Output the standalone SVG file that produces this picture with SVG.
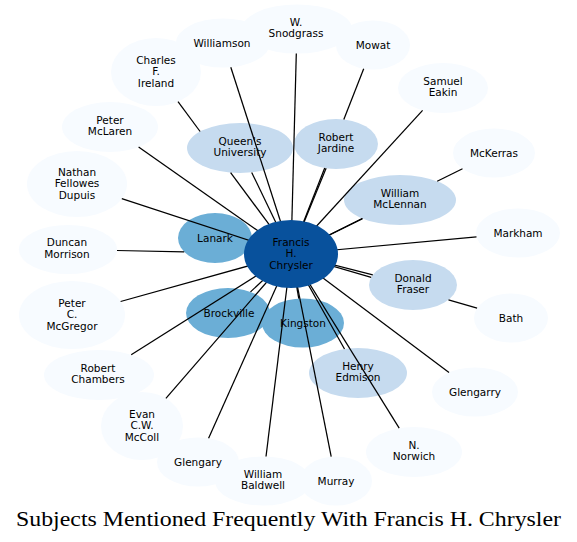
<svg xmlns="http://www.w3.org/2000/svg" width="577" height="542" viewBox="0 0 577 542">
<style>
.n0{fill:#f7fbff}
.n1{fill:#c6dbef}
.n2{fill:#6baed6}
.n3{fill:#08519c}
text{font-family:"DejaVu Sans","Liberation Sans",sans-serif;font-size:10.5px;fill:#000;text-anchor:middle}
.e line{stroke:#000;stroke-width:1.25;stroke-linecap:butt}
.title{font-family:"Liberation Serif","DejaVu Serif",serif;font-size:20.5px;text-anchor:middle}
</style>
<rect width="577" height="542" fill="#fff"/>
<g id="node-williamson"><ellipse class="n0" cx="223" cy="43" rx="47" ry="24.5"/><text x="222" y="46.7">Williamson</text></g>
<g id="node-snodgrass"><ellipse class="n0" cx="297" cy="29" rx="55" ry="24.5"/><text x="296" y="25.7">W.</text><text x="296" y="37.4">Snodgrass</text></g>
<g id="node-mowat"><ellipse class="n0" cx="373" cy="45" rx="37" ry="24.5"/><text x="373" y="48.7">Mowat</text></g>
<g id="node-ireland"><ellipse class="n0" cx="156" cy="72" rx="45" ry="34"/><text x="156" y="63.5">Charles</text><text x="156" y="75">F.</text><text x="156" y="86.5">Ireland</text></g>
<g id="node-eakin"><ellipse class="n0" cx="443" cy="88" rx="45" ry="25"/><text x="443" y="84.7">Samuel</text><text x="443" y="96.4">Eakin</text></g>
<g id="node-mclaren"><ellipse class="n0" cx="110" cy="127" rx="48" ry="25"/><text x="110" y="123.7">Peter</text><text x="110" y="135.4">McLaren</text></g>
<g id="node-mckerras"><ellipse class="n0" cx="494" cy="153" rx="41" ry="24.5"/><text x="494" y="156.7">McKerras</text></g>
<g id="node-dupuis"><ellipse class="n0" cx="77" cy="184" rx="50" ry="33"/><text x="77" y="175.5">Nathan</text><text x="77" y="187">Fellowes</text><text x="77" y="198.5">Dupuis</text></g>
<g id="node-markham"><ellipse class="n0" cx="518" cy="233" rx="42" ry="24.5"/><text x="518" y="236.7">Markham</text></g>
<g id="node-morrison"><ellipse class="n0" cx="68" cy="249.5" rx="49" ry="24.5"/><text x="67" y="246.2">Duncan</text><text x="67" y="257.9">Morrison</text></g>
<g id="node-mcgregor"><ellipse class="n0" cx="72" cy="315" rx="53" ry="34"/><text x="72" y="306.5">Peter</text><text x="72" y="318">C.</text><text x="72" y="329.5">McGregor</text></g>
<g id="node-bath"><ellipse class="n0" cx="511" cy="318" rx="37" ry="24.5"/><text x="511" y="321.7">Bath</text></g>
<g id="node-chambers"><ellipse class="n0" cx="99" cy="375" rx="55" ry="25"/><text x="98" y="371.7">Robert</text><text x="98" y="383.4">Chambers</text></g>
<g id="node-glengarry"><ellipse class="n0" cx="475" cy="392" rx="43" ry="24.5"/><text x="475" y="395.7">Glengarry</text></g>
<g id="node-mccoll"><ellipse class="n0" cx="142" cy="426" rx="41" ry="34"/><text x="142" y="417.5">Evan</text><text x="142" y="429">C.W.</text><text x="142" y="440.5">McColl</text></g>
<g id="node-norwich"><ellipse class="n0" cx="414" cy="452" rx="48" ry="25"/><text x="414" y="448.7">N.</text><text x="414" y="460.4">Norwich</text></g>
<g id="node-glengary"><ellipse class="n0" cx="198" cy="462" rx="41" ry="24.5"/><text x="198" y="465.7">Glengary</text></g>
<g id="node-baldwell"><ellipse class="n0" cx="263" cy="481" rx="48" ry="24.5"/><text x="263" y="477.7">William</text><text x="263" y="489.4">Baldwell</text></g>
<g id="node-murray"><ellipse class="n0" cx="336" cy="481" rx="36" ry="24.5"/><text x="336" y="484.7">Murray</text></g>
<g id="node-queens"><ellipse class="n1" cx="240" cy="148" rx="53" ry="25"/><text x="240" y="144.7">Queen's</text><text x="240" y="156.4">University</text></g>
<g id="node-jardine"><ellipse class="n1" cx="336" cy="144" rx="42" ry="25"/><text x="336" y="140.7">Robert</text><text x="336" y="152.4">Jardine</text></g>
<g id="node-mclennan"><ellipse class="n1" cx="400" cy="200" rx="56" ry="25"/><text x="400" y="196.7">William</text><text x="400" y="208.4">McLennan</text></g>
<g id="node-fraser"><ellipse class="n1" cx="413" cy="285" rx="44" ry="25"/><text x="413" y="281.7">Donald</text><text x="413" y="293.4">Fraser</text></g>
<g id="node-edmison"><ellipse class="n1" cx="358" cy="373" rx="49" ry="25"/><text x="358" y="369.7">Henry</text><text x="358" y="381.4">Edmison</text></g>
<g id="node-lanark"><ellipse class="n2" cx="215" cy="238" rx="37" ry="25"/><text x="215" y="241.7">Lanark</text></g>
<g id="node-brockville"><ellipse class="n2" cx="228" cy="313" rx="42" ry="25"/><text x="229" y="316.7">Brockville</text></g>
<g id="node-kingston"><ellipse class="n2" cx="303" cy="323" rx="41" ry="24.5"/><text x="303" y="326.7">Kingston</text></g>
<g id="connectors" class="e">
<line x1="178" y1="101.7" x2="200.1" y2="131.5"/><line x1="230.6" y1="172.6" x2="291" y2="254"/>
<line x1="230.8" y1="67.2" x2="291" y2="254"/>
<line x1="296.3" y1="53.5" x2="291" y2="254"/>
<line x1="363.7" y1="68.7" x2="343.8" y2="119.5"/><line x1="324.7" y1="168.1" x2="291" y2="254"/>
<line x1="422.6" y1="110.3" x2="291" y2="254"/>
<line x1="462.5" y1="168.7" x2="437.2" y2="181.3"/><line x1="362.3" y1="218.5" x2="291" y2="254"/>
<line x1="476.5" y1="236.8" x2="291" y2="254"/>
<line x1="477.1" y1="308.1" x2="448.5" y2="299.8"/><line x1="371.2" y1="277.3" x2="291" y2="254"/>
<line x1="449" y1="372.5" x2="291" y2="254"/>
<line x1="399.2" y1="428.2" x2="291" y2="254"/>
<line x1="331.2" y1="456.7" x2="291" y2="254"/>
<line x1="266" y1="456.5" x2="291" y2="254"/>
<line x1="208.6" y1="438.3" x2="291" y2="254"/>
<line x1="165.9" y1="398.4" x2="291" y2="254"/>
<line x1="131.2" y1="354.7" x2="291" y2="254"/>
<line x1="120.6" y1="301.5" x2="291" y2="254"/>
<line x1="117" y1="250.5" x2="184.2" y2="251.9"/>
<line x1="121.8" y1="198.7" x2="291" y2="254"/>
<line x1="138.6" y1="147.1" x2="291" y2="254"/>
<line x1="251.7" y1="172.4" x2="291" y2="254"/>
<line x1="326.1" y1="168.3" x2="291" y2="254"/>
<line x1="362.5" y1="218.6" x2="291" y2="254"/>
<line x1="372.8" y1="274.8" x2="291" y2="254"/>
<line x1="344.5" y1="349" x2="291" y2="254"/>
<line x1="250.3" y1="245.4" x2="291" y2="254"/>
<line x1="250.5" y1="291.9" x2="291" y2="254"/>
<line x1="298.8" y1="298.6" x2="291" y2="254"/>
</g>
<g id="node-chrysler"><ellipse class="n3" cx="291" cy="254" rx="47" ry="34"/><text x="291" y="245.5">Francis</text><text x="291" y="257">H.</text><text x="291" y="268.5">Chrysler</text></g>
<text class="title" x="288.5" y="526" textLength="545" lengthAdjust="spacingAndGlyphs">Subjects Mentioned Frequently With Francis H. Chrysler</text>
</svg>
